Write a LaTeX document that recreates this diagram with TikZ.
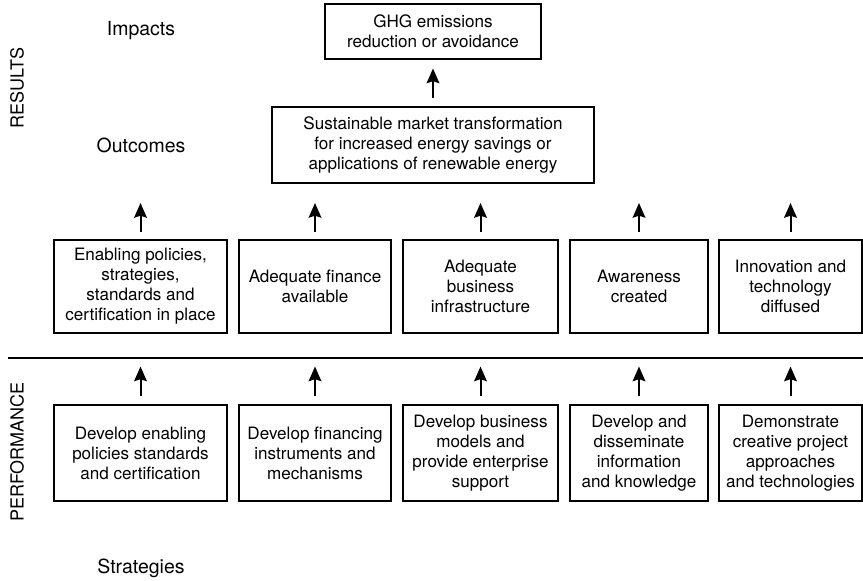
\documentclass[tikz,border=0pt]{standalone}
\usepackage{fontspec}
\setmainfont{TeX Gyre Heros}
\usetikzlibrary{arrows.meta}
\begin{document}
\begin{tikzpicture}[x=0.75pt,y=-0.75pt,
  box/.style={draw,line width=0.8pt,align=center,inner sep=0pt,font=\fontsize{12.8}{15}\selectfont},
  lab/.style={font=\fontsize{14.6}{17}\selectfont},
  side/.style={font=\fontsize{13.5}{16}\selectfont,rotate=90},
  arr/.style={line width=1.5pt,-{Stealth[length=11pt,width=9.5pt,inset=1.5pt]}}]
\useasboundingbox (0,0) rectangle (863,581);
\node[box,minimum width=162pt,minimum height=41.25pt] (ghg) at (433,31.5) {GHG emissions\\reduction or avoidance};
\node[box,minimum width=241.5pt,minimum height=57pt] (smt) at (433,145) {Sustainable market transformation\\for increased energy savings or\\applications of renewable energy};
\node[box,minimum width=129.75pt,minimum height=69.75pt] (o1) at (140.5,286.5) {Enabling policies,\\strategies,\\standards and\\certification in place};
\node[box,minimum width=114pt,minimum height=69.75pt] (o2) at (315,286.5) {Adequate finance\\available};
\node[box,minimum width=116.25pt,minimum height=69.75pt] (o3) at (480.5,286.5) {Adequate\\business\\infrastructure};
\node[box,minimum width=103.5pt,minimum height=69.75pt] (o4) at (639,286.5) {Awareness\\created};
\node[box,minimum width=107.25pt,minimum height=69.75pt] (o5) at (790.5,286.5) {Innovation and\\technology\\diffused};
\node[box,minimum width=129.75pt,minimum height=72pt] (s1) at (140.5,453) {Develop enabling\\policies standards\\and certification};
\node[box,minimum width=114pt,minimum height=72pt] (s2) at (315,453) {Develop financing\\instruments and\\mechanisms};
\node[box,minimum width=116.25pt,minimum height=72pt] (s3) at (480.5,453) {Develop business\\models and\\provide enterprise\\support};
\node[box,minimum width=103.5pt,minimum height=72pt] (s4) at (639,453) {Develop and\\disseminate\\information\\and knowledge};
\node[box,minimum width=107.25pt,minimum height=72pt] (s5) at (790.5,453) {Demonstrate\\creative project\\approaches\\and technologies};
\node[lab] (imp) at (141,31) {Impacts};
\node[lab] (out) at (141,145) {Outcomes};
\node[lab] (str) at (141,568) {Strategies};
\node[side] (res) at (17,88) {RESULTS};
\node[side] (perf) at (17,452) {PERFORMANCE};
\coordinate (t1) at (140.5,203);
\coordinate (t2) at (315,203);
\coordinate (t3) at (480.5,203);
\coordinate (t4) at (639,203);
\coordinate (t5) at (790.5,203);
\draw[line width=2pt] (8,358) -- (863,358);
\draw[arr,shorten <=6pt,shorten >=6.75pt] (smt) -- (ghg);
\draw[arr,shorten <=5.25pt] (o1.north) -- (t1);
\draw[arr,shorten <=5.25pt] (o2.north) -- (t2);
\draw[arr,shorten <=5.25pt] (o3.north) -- (t3);
\draw[arr,shorten <=5.25pt] (o4.north) -- (t4);
\draw[arr,shorten <=5.25pt] (o5.north) -- (t5);
\draw[arr,shorten <=6pt,shorten >=24.75pt] (s1) -- (o1);
\draw[arr,shorten <=6pt,shorten >=24.75pt] (s2) -- (o2);
\draw[arr,shorten <=6pt,shorten >=24.75pt] (s3) -- (o3);
\draw[arr,shorten <=6pt,shorten >=24.75pt] (s4) -- (o4);
\draw[arr,shorten <=6pt,shorten >=24.75pt] (s5) -- (o5);
\end{tikzpicture}
\end{document}
